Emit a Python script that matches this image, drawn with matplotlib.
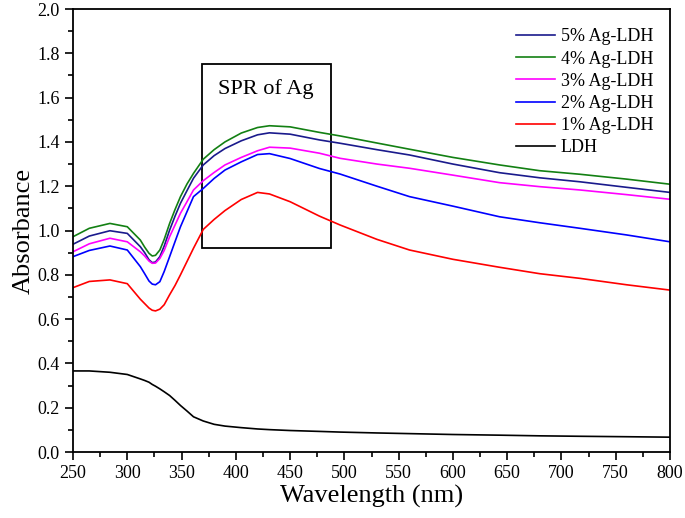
import numpy as np
import matplotlib
matplotlib.use('Agg')
import matplotlib.pyplot as plt
from matplotlib.patches import Rectangle
from matplotlib.ticker import MultipleLocator, FormatStrFormatter

plt.rcParams['font.family'] = ['Liberation Serif', 'DejaVu Serif']

# wavelength grid (nm)
wl = [250, 265, 284, 300, 312, 316, 320, 323, 326, 330, 334, 339, 344, 349, 355, 361, 370, 380, 390,
      405, 420, 431, 450, 477, 496, 530, 560, 600, 643, 680, 717, 760, 800]

ag5 = [0.938, 0.975, 0.999, 0.987, 0.927, 0.900, 0.868, 0.855, 0.858, 0.882, 0.930, 1.002, 1.065, 1.123,
       1.180, 1.236, 1.296, 1.338, 1.370,
       1.405, 1.432, 1.441, 1.435, 1.409, 1.394, 1.365, 1.341, 1.300, 1.261, 1.238, 1.220, 1.195, 1.172]
ag4 = [0.972, 1.010, 1.032, 1.017, 0.957, 0.925, 0.897, 0.885, 0.888, 0.912, 0.960, 1.032, 1.095, 1.153,
       1.210, 1.258, 1.322, 1.365, 1.400,
       1.440, 1.465, 1.473, 1.468, 1.443, 1.427, 1.395, 1.367, 1.330, 1.296, 1.270, 1.254, 1.232, 1.209]
ag3 = [0.904, 0.940, 0.965, 0.949, 0.904, 0.885, 0.862, 0.852, 0.853, 0.874, 0.910, 0.972, 1.025, 1.078,
       1.130, 1.183, 1.225, 1.262, 1.296,
       1.330, 1.360, 1.376, 1.372, 1.349, 1.326, 1.300, 1.281, 1.250, 1.216, 1.198, 1.183, 1.162, 1.141]
ag2 = [0.882, 0.910, 0.930, 0.912, 0.837, 0.805, 0.772, 0.758, 0.755, 0.769, 0.815, 0.882, 0.950, 1.017,
       1.085, 1.153, 1.190, 1.235, 1.273,
       1.310, 1.343, 1.347, 1.325, 1.280, 1.255, 1.200, 1.153, 1.110, 1.062, 1.035, 1.010, 0.980, 0.949]
ag1 = [0.742, 0.770, 0.777, 0.760, 0.690, 0.670, 0.650, 0.640, 0.637, 0.645, 0.665, 0.710, 0.752, 0.800,
       0.860, 0.920, 1.005, 1.050, 1.090,
       1.140, 1.172, 1.165, 1.130, 1.065, 1.025, 0.960, 0.912, 0.870, 0.834, 0.805, 0.784, 0.755, 0.731]
ldh = [0.366, 0.366, 0.360, 0.350, 0.330, 0.323, 0.315, 0.305, 0.297, 0.285, 0.272, 0.255, 0.233, 0.210,
       0.185, 0.159, 0.140, 0.125, 0.117,
       0.110, 0.104, 0.101, 0.097, 0.093, 0.090, 0.086, 0.083, 0.079, 0.076, 0.073, 0.071, 0.069, 0.067]

labels = ['5% Ag-LDH', '4% Ag-LDH', '3% Ag-LDH', '2% Ag-LDH', '1% Ag-LDH', 'LDH']
colors = ['#1a1a8c', '#138013', '#ff00ff', '#0000ff', '#ff0000', '#000000']

fig = plt.figure(figsize=(6.85, 5.18), dpi=100)
ax = fig.add_axes([0.1066, 0.1274, 0.8715, 0.8552])

for y, lab, c in zip([ag5, ag4, ag3, ag2, ag1, ldh], labels, colors):
    ax.plot(wl, y, color=c, lw=1.2, label=lab)

# box marking the SPR region
ax.add_patch(Rectangle((368.6, 0.922), 118.8, 0.828, fill=False, ec='black', lw=1.3))
ax.text(428, 1.64, 'SPR of Ag', ha='center', va='center', fontsize=16)

ax.set_xlim(250, 800)
ax.set_ylim(0, 2.0)
ax.xaxis.set_major_locator(MultipleLocator(50))
ax.xaxis.set_minor_locator(MultipleLocator(25))
ax.yaxis.set_major_locator(MultipleLocator(0.2))
ax.yaxis.set_minor_locator(MultipleLocator(0.1))
ax.yaxis.set_major_formatter(FormatStrFormatter('%.1f'))
ax.tick_params(which='both', direction='out', labelsize=13, width=1.2)
ax.tick_params(which='major', length=6)
ax.tick_params(which='minor', length=3.5)
for s in ax.spines.values():
    s.set_linewidth(1.3)

ax.set_xlabel('Wavelength (nm)', fontsize=19, labelpad=2)
ax.set_ylabel('Absorbance', fontsize=19, labelpad=2)

ax.legend(loc='upper right', bbox_to_anchor=(0.993, 0.985), frameon=False, fontsize=13,
          handlelength=2.2, labelspacing=0.29, handletextpad=0.3, borderaxespad=0.3)

fig.savefig('out.png', dpi=100)
